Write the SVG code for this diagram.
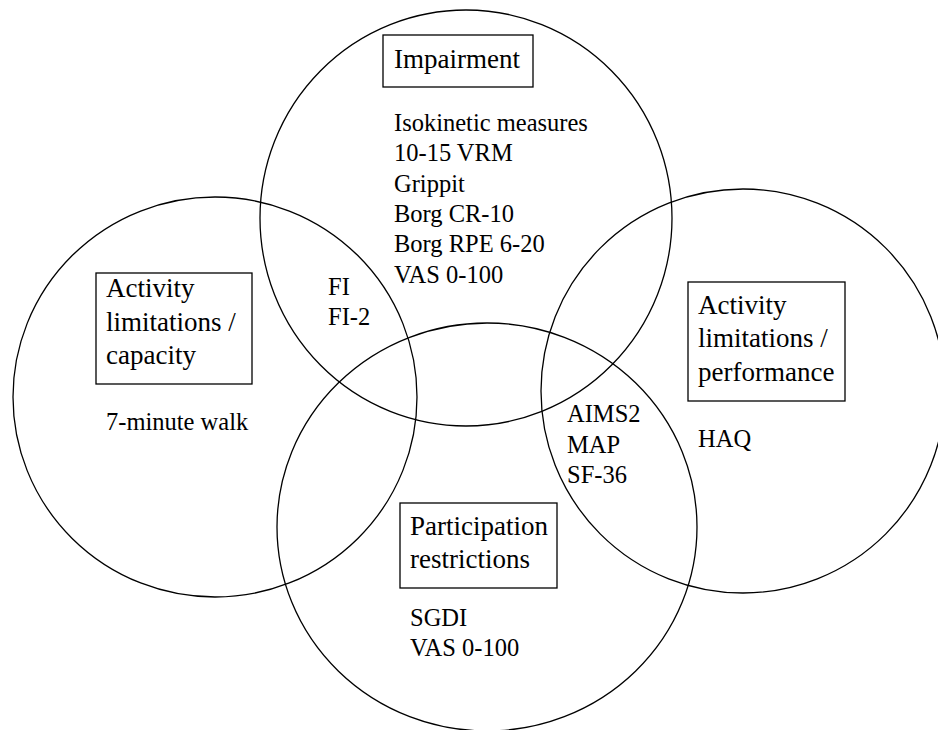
<svg xmlns="http://www.w3.org/2000/svg" width="938" height="730" viewBox="0 0 938 730">
<style>
.c{fill:none;stroke:#000;stroke-width:1.3}
.b{fill:none;stroke:#000;stroke-width:1.3}
.h{font-family:'Liberation Serif','Tinos','DejaVu Serif',serif;font-size:27px;fill:#000}
.t{font-family:'Liberation Serif','Tinos','DejaVu Serif',serif;font-size:24.5px;fill:#000}
</style>
<rect width="938" height="730" fill="#fff"/>
<g id="connectors"></g>
<g id="impairment">
<ellipse class="c" cx="466" cy="218" rx="206" ry="208"/>
<rect class="b" x="383" y="35" width="150" height="52"/>
<text class="h" x="394" y="68">Impairment</text>
<text class="t" x="394" y="130.7">Isokinetic measures</text>
<text class="t" x="394" y="161.1">10-15 VRM</text>
<text class="t" x="394" y="191.5">Grippit</text>
<text class="t" x="394" y="221.9">Borg CR-10</text>
<text class="t" x="394" y="252.3">Borg RPE 6-20</text>
<text class="t" x="394" y="282.7">VAS 0-100</text>
</g>
<g id="capacity">
<ellipse class="c" cx="215" cy="397" rx="202" ry="200"/>
<rect class="b" x="96" y="273" width="156" height="111"/>
<text class="h" x="106" y="297">Activity</text>
<text class="h" x="106" y="330.5">limitations /</text>
<text class="h" x="106" y="364">capacity</text>
<text class="t" x="106" y="430">7-minute walk</text>
</g>
<g id="performance">
<circle class="c" cx="743" cy="391" r="202"/>
<rect class="b" x="688" y="282" width="157" height="119"/>
<text class="h" x="698" y="314">Activity</text>
<text class="h" x="698" y="347.3">limitations /</text>
<text class="h" x="698" y="380.7">performance</text>
<text class="t" x="698" y="447">HAQ</text>
</g>
<g id="participation">
<ellipse class="c" cx="487" cy="527" rx="210" ry="204"/>
<rect class="b" x="400" y="503" width="157" height="85"/>
<text class="h" x="410" y="535">Participation</text>
<text class="h" x="410" y="568.3">restrictions</text>
<text class="t" x="410" y="626">SGDI</text>
<text class="t" x="410" y="656">VAS 0-100</text>
</g>
<g id="overlap-impairment-capacity">
<text class="t" x="328" y="295">FI</text>
<text class="t" x="328" y="325">FI-2</text>
</g>
<g id="overlap-performance-participation">
<text class="t" x="567" y="421.7">AIMS2</text>
<text class="t" x="567" y="452.7">MAP</text>
<text class="t" x="567" y="483.3">SF-36</text>
</g>
</svg>
